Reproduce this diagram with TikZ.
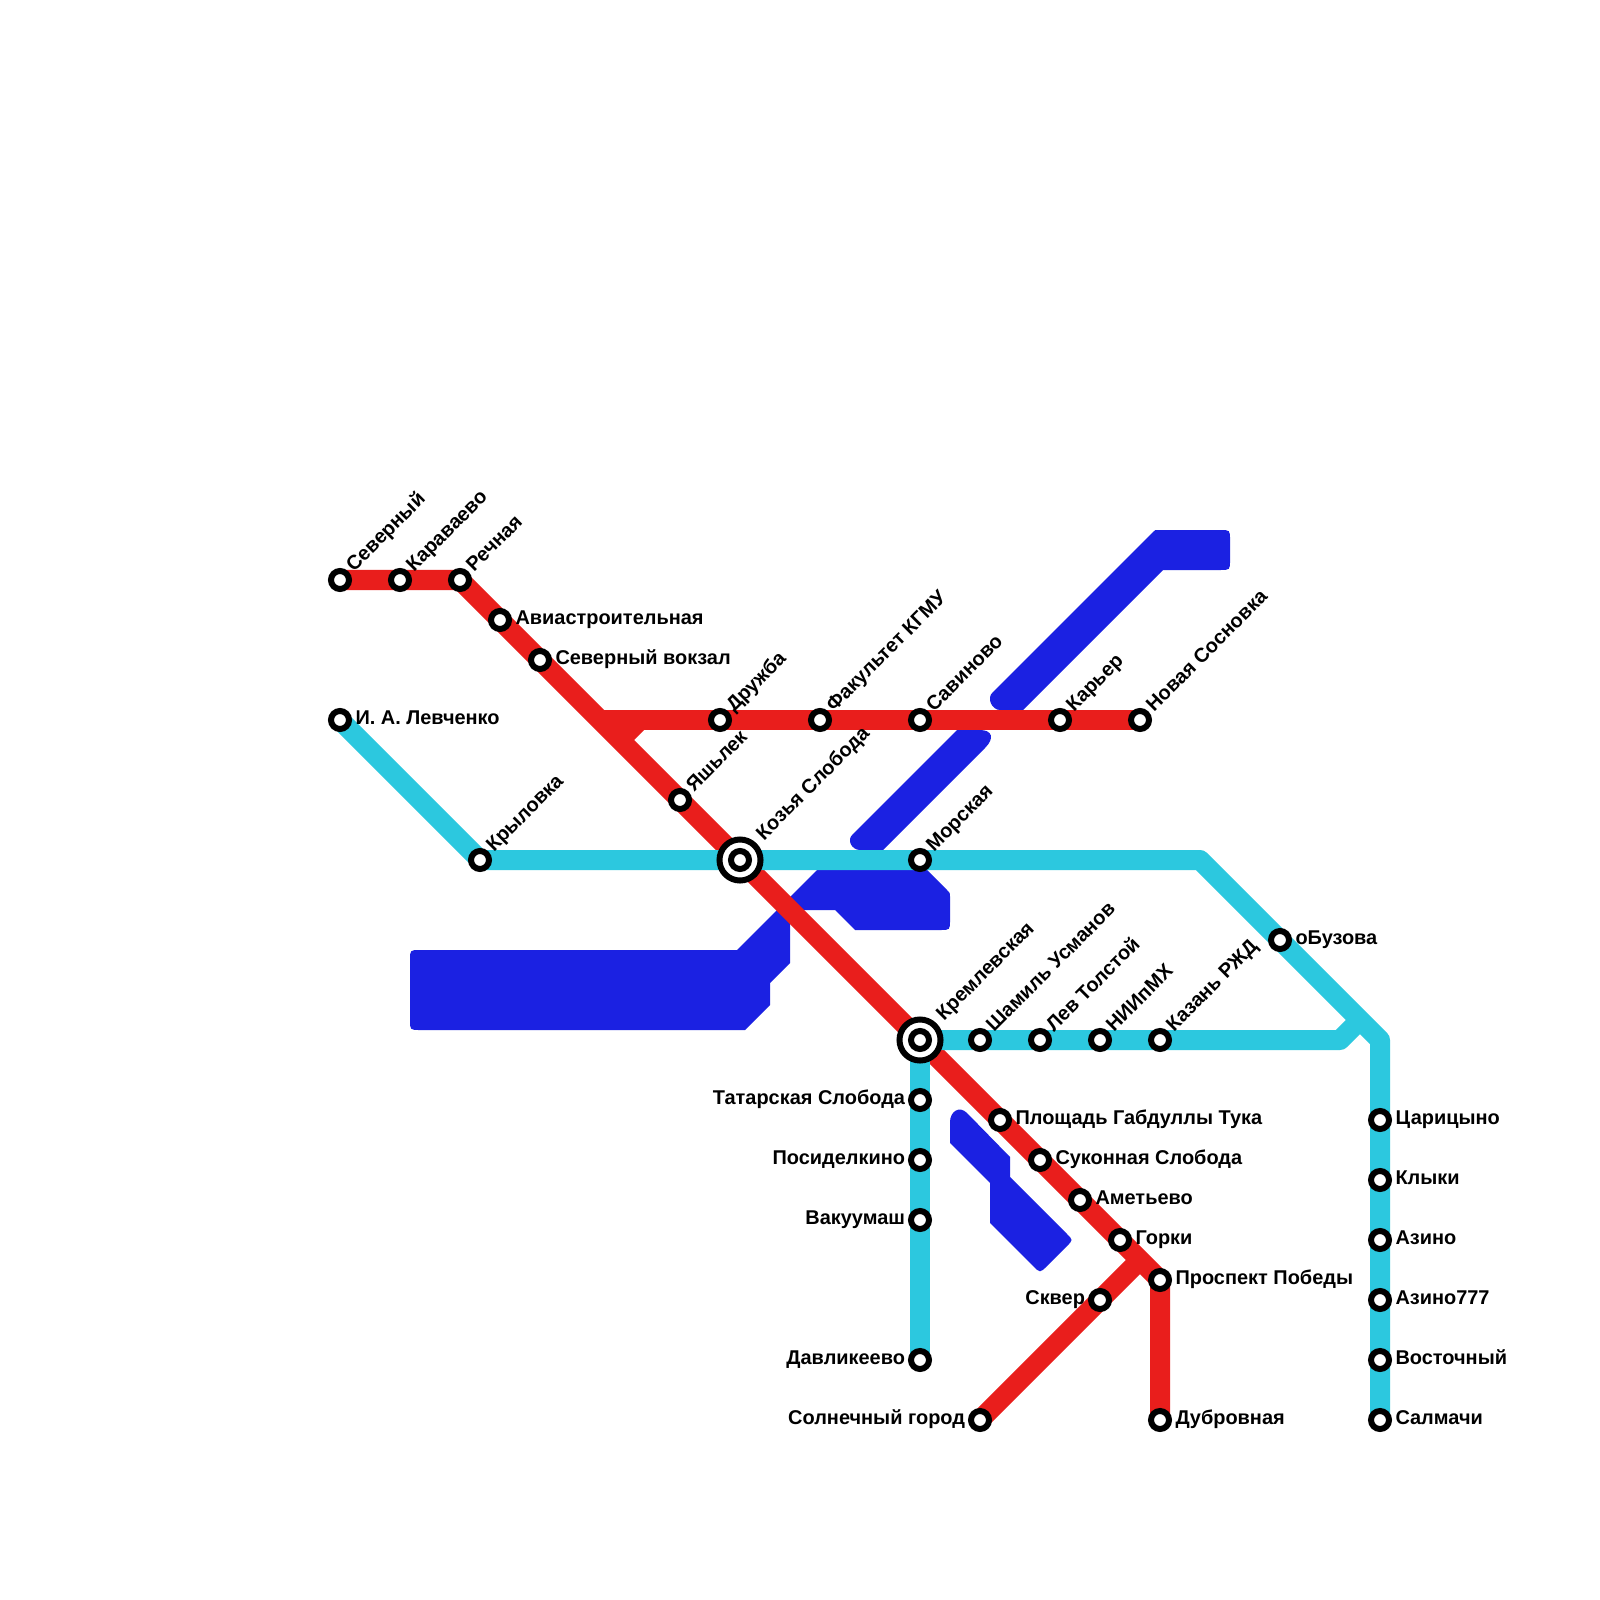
\documentclass[tikz,border=0pt]{standalone}
\usepackage{fontspec}
\setmainfont{Liberation Sans}
\usetikzlibrary{backgrounds}
\definecolor{redline}{HTML}{E91E1C}
\definecolor{cyanline}{HTML}{2CC8DF}
\definecolor{water}{HTML}{1B21E2}
\tikzset{
  stationdot/.style={circle,draw=black,fill=white,line width=0.06cm,minimum size=0.18cm,inner sep=0pt,outer sep=0pt},
  hubring/.style={circle,draw=black,fill=white,line width=0.06cm,minimum size=0.41cm,inner sep=0pt,outer sep=0pt},
  labtext/.style={font=\fontsize{5.67pt}{6.5pt}\selectfont\bfseries,text=black,inner sep=0pt,outer sep=0pt},
  redroute/.style={draw=redline,line width=0.2cm,line join=miter},
  cyanroute/.style={draw=cyanline,line width=0.2cm,line join=round},
  lake/.style={fill=water}
}
\newcommand{\stn}[2]{\node[stationdot] (#1) at (#2) {};}
\newcommand{\tagNE}[2]{\node[labtext,rotate=45,anchor=base west] (#1-t) at ([shift={(14,-7.5)}]#1.center) {#2};}
\newcommand{\tagHubNE}[2]{\node[labtext,rotate=45,anchor=base west] (#1-t) at ([shift={(24,-19)}]#1.center) {#2};}
\newcommand{\tagE}[2]{\node[labtext,anchor=base west] (#1-t) at ([shift={(15.5,4.5)}]#1.center) {#2};}
\newcommand{\tagW}[2]{\node[labtext,anchor=base east] (#1-t) at ([shift={(-15,4.5)}]#1.center) {#2};}
\begin{document}
\begin{tikzpicture}[x=0.01cm,y=-0.01cm]
\useasboundingbox (0,0) rectangle (1600,1600);
% hubs
\node[hubring] (kozya) at (740,860) {};
\node[hubring] (kreml) at (920,1040) {};
\node[stationdot] (kozyac) at (740,860) {};
\node[stationdot] (kremlc) at (920,1040) {};
% stations
\stn{sev}{340,580}\stn{kar}{400,580}\stn{rech}{460,580}
\stn{avia}{500,620}\stn{vokz}{540,660}
\stn{druzh}{720,720}\stn{fak}{820,720}\stn{sav}{920,720}\stn{karer}{1060,720}\stn{sosn}{1140,720}
\stn{lev}{340,720}\stn{kryl}{480,860}\stn{yash}{680,800}\stn{mor}{920,860}
\stn{sham}{980,1040}\stn{tolst}{1040,1040}\stn{nii}{1100,1040}\stn{rzd}{1160,1040}
\stn{buz}{1280,940}
\stn{tat}{920,1100}\stn{pos}{920,1160}\stn{vak}{920,1220}\stn{davl}{920,1360}
\stn{sol}{980,1420}\stn{skv}{1100,1300}
\stn{tuk}{1000,1120}\stn{suk}{1040,1160}\stn{amet}{1080,1200}\stn{gor}{1120,1240}
\stn{prosp}{1160,1280}\stn{dub}{1160,1420}
\stn{tsar}{1380,1120}\stn{klyk}{1380,1180}\stn{azi}{1380,1240}\stn{azis}{1380,1300}\stn{vost}{1380,1360}\stn{salm}{1380,1420}
% junction points
\coordinate (rA) at (600,720);
\coordinate (rB) at (620,740);
\coordinate (rC) at (640,720);
\coordinate (rD) at (1140,1260);
\coordinate (cA) at (1200,860);
\coordinate (cB) at (1380,1040);
\coordinate (cC) at (1340,1040);
\coordinate (cD) at (1360,1020);
% labels
\tagNE{sev}{Северный}
\tagNE{kar}{Караваево}
\tagNE{rech}{Речная}
\tagE{avia}{Авиастроительная}
\tagE{vokz}{Северный вокзал}
\tagNE{druzh}{Дружба}
\tagNE{fak}{Факультет КГМУ}
\tagNE{sav}{Савиново}
\tagNE{karer}{Карьер}
\tagNE{sosn}{Новая Сосновка}
\tagE{lev}{И. А. Левченко}
\tagNE{kryl}{Крыловка}
\tagNE{yash}{Яшьлек}
\tagNE{mor}{Морская}
\tagHubNE{kozya}{Козья Слобода}
\tagHubNE{kreml}{Кремлевская}
\tagNE{sham}{Шамиль Усманов}
\tagNE{tolst}{Лев Толстой}
\tagNE{nii}{НИИпМХ}
\tagNE{rzd}{Казань РЖД}
\tagE{buz}{оБузова}
\tagW{tat}{Татарская Слобода}
\tagW{pos}{Посиделкино}
\tagW{vak}{Вакуумаш}
\tagW{davl}{Давликеево}
\tagW{sol}{Солнечный город}
\tagW{skv}{Сквер}
\tagE{tuk}{Площадь Габдуллы Тука}
\tagE{suk}{Суконная Слобода}
\tagE{amet}{Аметьево}
\tagE{gor}{Горки}
\tagE{prosp}{Проспект Победы}
\tagE{dub}{Дубровная}
\tagE{tsar}{Царицыно}
\tagE{klyk}{Клыки}
\tagE{azi}{Азино}
\tagE{azis}{Азино777}
\tagE{vost}{Восточный}
\tagE{salm}{Салмачи}
\begin{pgfonlayer}{background}
\fill[white] (0,0) rectangle (1600,1600);
% water
\fill[lake] (420,950) -- (737,950) -- (817,870) -- (927,870) -- (947,890) .. controls (950,893) .. (950,897) -- (950,920) .. controls (950,930) .. (940,930) -- (855,930) -- (835,910) -- (790,910) -- (790,963) -- (770,983) -- (770,1005) -- (745,1030) -- (420,1030) .. controls (410,1030) .. (410,1020) -- (410,960) .. controls (410,950) .. (420,950) -- cycle;
\fill[lake] (1153,532) .. controls (1155,530) .. (1158,530) -- (1220,530) .. controls (1230,530) .. (1230,540) -- (1230,560) .. controls (1230,570) .. (1220,570) -- (1163,570) -- (1023,710) -- (1000,710) .. controls (992,710) and (986,698) .. (993,692) -- cycle;
\fill[lake] (957,730) -- (980,730) .. controls (992,730) and (995,738) .. (985,748) -- (883,850) -- (860,850) .. controls (852,850) and (846,840) .. (853,834) -- cycle;
\fill[lake] (990,1183) -- (950,1143) -- (950,1122) .. controls (950,1112) and (959,1105) .. (967,1113) -- (1010,1157) -- (1010,1177) -- (1067,1234) .. controls (1073,1240) .. (1067,1246) -- (1047,1266) .. controls (1040,1273) .. (1033,1266) -- (990,1223) -- cycle;
% routes
\draw[redroute] (sev.center) -- (kar.center) -- (rech.center) -- (avia.center) -- (vokz.center) -- (yash.center) -- (kozya.center) -- (kreml.center) -- (tuk.center) -- (suk.center) -- (amet.center) -- (gor.center) -- (prosp.center) -- (dub.center);
\draw[redroute] (rA) -- (druzh.center) -- (fak.center) -- (sav.center) -- (karer.center) -- (sosn.center);
\draw[redroute] (rB) -- (rC);
\draw[redroute] (sol.center) -- (skv.center) -- (rD);
\draw[cyanroute] (lev.center) -- (kryl.center) -- (kozya.center) -- (mor.center) -- (cA) -- (buz.center) -- (cB) -- (tsar.center) -- (klyk.center) -- (azi.center) -- (azis.center) -- (vost.center) -- (salm.center);
\draw[cyanroute] (kreml.center) -- (sham.center) -- (tolst.center) -- (nii.center) -- (rzd.center) -- (cC) -- (cD);
\draw[cyanroute] (kreml.center) -- (tat.center) -- (pos.center) -- (vak.center) -- (davl.center);
\end{pgfonlayer}
\end{tikzpicture}
\end{document}
